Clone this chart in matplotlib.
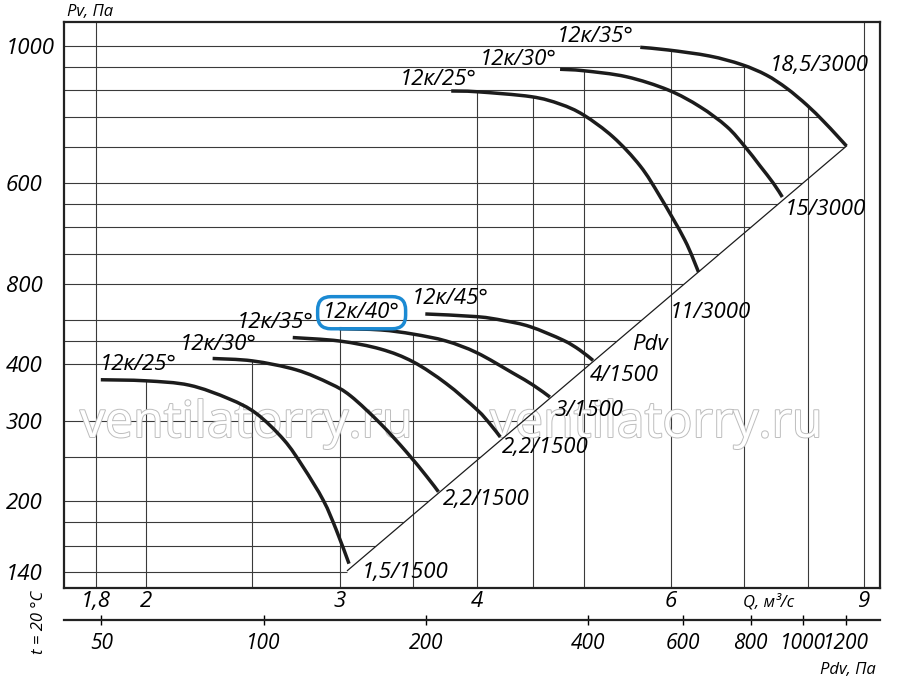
import numpy as np
import matplotlib
matplotlib.use('Agg')
from matplotlib import pyplot as plt
from matplotlib import patheffects as pe
from matplotlib.patches import Polygon, PathPatch
from matplotlib.path import Path
from matplotlib.ticker import NullLocator

plt.rcParams['font.family'] = ['Open Sans', 'DejaVu Sans']
plt.rcParams['font.style'] = 'italic'

# %% fan curves, Q in m3/s, Pv in Pa
q_low25 = [1.82, 2.00, 2.19, 2.38, 2.52, 2.67, 2.78, 2.90, 2.98, 3.06]
pv_low25 = [370, 368, 360, 336, 312, 273, 238, 201, 173, 146]

q_low30 = [2.30, 2.50, 2.74, 2.94, 3.07, 3.27, 3.45, 3.60, 3.69]
pv_low30 = [412, 407, 389, 363, 341, 296, 257, 227, 210]

q_low35 = [2.72, 3.00, 3.27, 3.50, 3.75, 4.00, 4.11, 4.20]
pv_low35 = [458, 450, 432, 405, 363, 318, 296, 277]

q_40 = [3.00, 3.27, 3.50, 3.75, 4.00, 4.31, 4.50, 4.66]
pv_40 = [479, 476, 466, 450, 424, 383, 360, 339]

q_45 = [3.59, 4.00, 4.23, 4.47, 4.79, 4.96, 5.10]
pv_45 = [516, 509, 499, 484, 452, 430, 408]

q_top25 = [3.79, 4.00, 4.48, 4.76, 5.00, 5.32, 5.63, 5.87, 6.18, 6.36]
pv_top25 = [1593, 1587, 1548, 1491, 1411, 1262, 1090, 933, 750, 638]

q_top30 = [4.76, 5.00, 5.47, 5.97, 6.38, 6.75, 7.01, 7.23, 7.44, 7.58]
pv_top30 = [1778, 1765, 1712, 1601, 1471, 1330, 1202, 1093, 999, 932]

q_top35 = [5.63, 5.97, 6.51, 6.96, 7.33, 7.65, 7.98, 8.26, 8.49, 8.67]
pv_top35 = [1987, 1960, 1901, 1821, 1727, 1615, 1484, 1368, 1275, 1206]

# dynamic pressure line
q_pdv = [3.05, 8.67]
pv_pdv = [141, 1206]

curves = [
    (q_low25, pv_low25), (q_low30, pv_low30), (q_low35, pv_low35),
    (q_40, pv_40), (q_45, pv_45),
    (q_top25, pv_top25), (q_top30, pv_top30), (q_top35, pv_top35),
]

# grid and ticks
q_grid = [1.8, 2, 2.5, 3, 3.5, 4, 4.5, 5, 6, 7, 8, 9]
pv_grid = [2000, 1800, 1600, 1400, 1200, 1000, 900, 800, 700, 600,
           500, 450, 400, 300, 250, 200, 180, 160, 140]
q_ticks = [1.8, 2, 3, 4, 6, 9]
q_tick_labels = ['1,8', '2', '3', '4', '6', '9']
pv_ticks = [2000, 1000, 600, 400, 300, 200, 140]
pv_tick_labels = ['1000', '600', '800', '400', '300', '200', '140']
pdv_ticks = [50, 100, 200, 400, 600, 800, 1000, 1200]
pdv_coef, pdv_exp = 14.7, 2.04

# curve labels: text, Q, Pv
labels = [
    ('12к/35°', 4.725, 2037), ('12к/30°', 4.024, 1816), ('12к/25°', 3.404, 1642),
    ('18,5/3000', 7.384, 1765), ('15/3000', 7.619, 851), ('11/3000', 5.990, 505),
    ('Pdv', 5.532, 430), ('4/1500', 5.066, 368), ('3/1500', 4.709, 308),
    ('2,2/1500', 4.211, 256), ('2,2/1500', 3.724, 196), ('1,5/1500', 3.142, 136),
    ('12к/25°', 1.816, 389), ('12к/30°', 2.147, 430), ('12к/35°', 2.418, 480),
    ('12к/45°', 3.488, 543),
]
boxed_label = ('12к/40°', 2.899, 505)


def smooth_path(q, pv):
    # Catmull-Rom through the read points (in log space), drawn as cubic Beziers
    p = np.log10(np.column_stack([q, pv]))
    ext = np.vstack([p[0], p, p[-1]])
    verts, codes = [p[0]], [Path.MOVETO]
    for i in range(len(p) - 1):
        p0, p1, p2, p3 = ext[i], ext[i + 1], ext[i + 2], ext[i + 3]
        verts += [p1 + (p2 - p0) / 6, p2 - (p3 - p1) / 6, p2]
        codes += [Path.CURVE4] * 3
    return Path(10 ** np.array(verts), codes)


# %%
fig = plt.figure(figsize=(9, 6.82), dpi=100)
ax = fig.add_axes([64 / 900, 1 - 588 / 682, 816 / 900, 566 / 682])
ax.set_xscale('log')
ax.set_yscale('log')
xlo, xhi, ylo, yhi = 1.685, 9.30, 129.1, 2258
ax.set_xlim(xlo, xhi)
ax.set_ylim(ylo, yhi)

grid_kw = dict(color='#3a3a3a', lw=0.8, zorder=1)

# horizontal lines stop at the outer curve and the Pdv line
clip_verts = ([(1.0, 5000), (q_top35[0], 5000)] + list(zip(q_top35, pv_top35))
              + [(q_pdv[0], pv_pdv[0]), (q_pdv[0], 50), (1.0, 50)])
clip = Polygon(clip_verts, closed=True, transform=ax.transData)
for v in pv_grid:
    ln = ax.axhline(v, **grid_kw)
    ln.set_clip_path(clip)


# vertical lines stop at the highest curve above them
def top_of(q):
    tops = [np.interp(np.log(q), np.log(cq), np.log(cp))
            for cq, cp in curves if cq[0] <= q <= cq[-1]]
    return np.exp(max(tops)) if tops else yhi


for q in q_grid:
    ax.plot([q, q], [ylo, top_of(q)], **grid_kw)

for cq, cp in curves:
    ax.add_patch(PathPatch(smooth_path(cq, cp), fill=False, edgecolor='#1c1c1c',
                           lw=2.5, capstyle='butt', zorder=3))
ax.plot(q_pdv, pv_pdv, color='#1c1c1c', lw=0.9, zorder=3)

for s, q, p in labels:
    ax.text(q, p, s, fontsize=16, va='baseline', ha='left', zorder=4)
ax.text(boxed_label[1], boxed_label[2], boxed_label[0], fontsize=16,
        va='baseline', ha='left', zorder=4,
        bbox=dict(boxstyle='round,pad=0.25,rounding_size=0.6', fc='none',
                  ec='#1b8ad3', lw=2.5))

for x0 in (80, 490):
    ax.text(x0 / 900, 1 - 437 / 682, 'ventilatorry.ru', transform=fig.transFigure,
            fontsize=36, style='normal', color='white', zorder=2,
            path_effects=[pe.withStroke(linewidth=1.4, foreground='#bdbdbd')])

for sp in ax.spines.values():
    sp.set_linewidth(1.6)
    sp.set_color('#222222')

ax.set_xticks(q_ticks, q_tick_labels)
ax.set_yticks(pv_ticks, pv_tick_labels)
ax.xaxis.set_minor_locator(NullLocator())
ax.yaxis.set_minor_locator(NullLocator())
ax.tick_params(axis='x', length=0, labelsize=16, pad=2)
ax.tick_params(axis='y', length=0, labelsize=16, pad=42)
for lab in ax.get_yticklabels():
    lab.set_ha('left')

# dynamic pressure scale under the chart
sec = ax.secondary_xaxis(
    -0.0565,
    functions=(lambda q: pdv_coef * np.power(np.maximum(q, 1e-9), pdv_exp),
               lambda p: np.power(np.maximum(p, 1e-9) / pdv_coef, 1 / pdv_exp)))
sec.set_xticks(pdv_ticks, [str(t) for t in pdv_ticks])
sec.xaxis.set_minor_locator(NullLocator())
sec.tick_params(direction='inout', length=7, width=1, labelsize=15, pad=6)
sec.spines['bottom'].set_linewidth(1.6)
sec.spines['bottom'].set_color('#222222')

fig.text(67 / 900, 1 - 12 / 682, 'Pv, Па', fontsize=12, va='center', ha='left')
fig.text(743 / 900, 1 - 602 / 682, 'Q, м³/с', fontsize=12, va='center', ha='left')
fig.text(820 / 900, 1 - 670 / 682, 'Pdv, Па', fontsize=12, va='center', ha='left')
fig.text(39 / 900, 1 - 622 / 682, 't = 20 °C', fontsize=12, va='center',
         ha='center', rotation=90)

fig.savefig('out.png', dpi=100)
